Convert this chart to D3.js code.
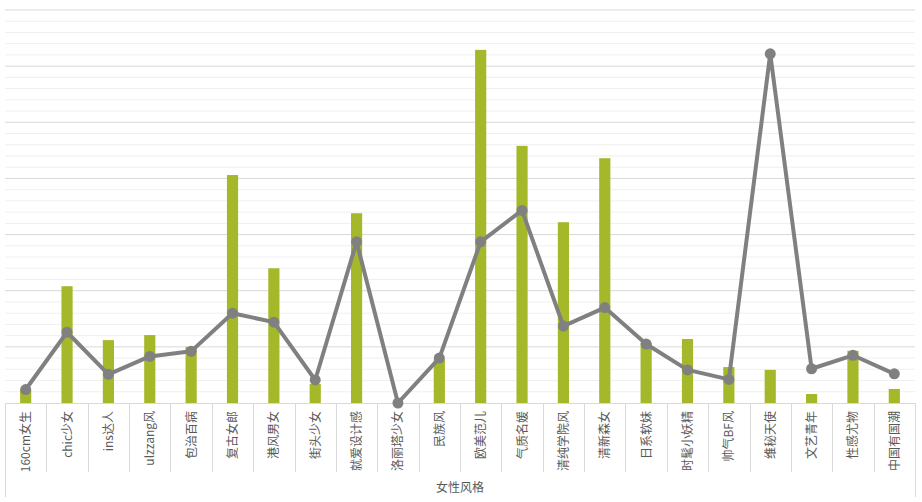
<!DOCTYPE html>
<html>
<head>
<meta charset="utf-8">
<script src="https://cdn.jsdelivr.net/npm/d3@7"></script>
<style>
  body { margin: 0; background: #fff; }
  text { font-family: "Noto Sans CJK SC", "Noto Sans", sans-serif; fill: #595959; }
</style>
</head>
<body>
<svg id="chart"></svg>
<script>
// categories along the x axis
var styles = ["160cm女生", "chic少女", "ins达人", "ulzzang风", "包治百病", "复古女郎", "港风男女",
  "街头少女", "就爱设计感", "洛丽塔少女", "民族风", "欧美范儿", "气质名媛", "清纯学院风", "清新森女",
  "日系软妹", "时髦小妖精", "帅气BF风", "维秘天使", "文艺青年", "性感尤物", "中国有国潮"];
// bar series (primary axis)
var barValues = [23, 208, 112, 121, 100, 406, 240, 34, 338, 0, 78, 629, 458, 322, 436, 107, 114, 64, 59, 16, 93, 25];
// line series (secondary axis)
var lineValues = [2.4, 12.6, 5.1, 8.3, 9.2, 16.0, 14.4, 4.1, 28.7, 0, 8.0, 28.7, 34.3, 13.7, 17.0, 10.5, 5.9, 4.2, 62.2, 6.1, 8.5, 5.2];
var outerLabel = "女性风格";

var svgWidth = 922, svgHeight = 502;
var svg = d3.select("#chart")
  .attr("width", svgWidth)
  .attr("height", svgHeight);

var margin = {top: 10, right: 7, bottom: 99, left: 5};
var plotW = svgWidth - margin.left - margin.right;
var plotH = svgHeight - margin.top - margin.bottom;

var x = d3.scaleBand()
  .domain(styles)
  .range([margin.left, margin.left + plotW]);

var y = d3.scaleLinear()
  .domain([0, 700])
  .range([margin.top + plotH, margin.top]);

var y2 = d3.scaleLinear()
  .domain([0, 70])
  .range([margin.top + plotH, margin.top]);

// minor then major gridlines
var minorTicks = d3.range(0, 701, 20).filter(d => d % 100 != 0);
svg.append("g").selectAll("line")
  .data(minorTicks).enter().append("line")
  .attr("x1", margin.left).attr("x2", margin.left + plotW)
  .attr("y1", d => y(d)).attr("y2", d => y(d))
  .attr("stroke", "#efefef").attr("stroke-width", 1);

svg.append("g").selectAll("line")
  .data(d3.range(100, 701, 100)).enter().append("line")
  .attr("x1", margin.left).attr("x2", margin.left + plotW)
  .attr("y1", d => y(d)).attr("y2", d => y(d))
  .attr("stroke", "#d9d9d9").attr("stroke-width", 1);

// bars
var barW = x.bandwidth() * 0.27;
svg.append("g").selectAll("rect")
  .data(styles).enter().append("rect")
  .attr("x", d => x(d) + x.bandwidth() / 2 - barW / 2)
  .attr("y", (d, i) => y(barValues[i]))
  .attr("width", barW)
  .attr("height", (d, i) => y(0) - y(barValues[i]))
  .attr("fill", "#a5b829");

// x axis with two level category labels
var base = y(0);
var ax = svg.append("g");
ax.append("line")
  .attr("x1", margin.left).attr("x2", margin.left + plotW)
  .attr("y1", base + 0.5).attr("y2", base + 0.5)
  .attr("stroke", "#d9d9d9");

var seps = styles.map(d => x(d)).concat([margin.left + plotW]);
ax.selectAll("line.sep")
  .data(seps).enter().append("line")
  .attr("class", "sep")
  .attr("x1", d => Math.round(d) + 0.5).attr("x2", d => Math.round(d) + 0.5)
  .attr("y1", base)
  .attr("y2", (d, i) => (i == 0 || i == seps.length - 1) ? base + 94 : base + 69)
  .attr("stroke", "#d9d9d9");

ax.selectAll("text.cat")
  .data(styles).enter().append("text")
  .attr("class", "cat")
  .attr("transform", d => "translate(" + (x(d) + x.bandwidth() / 2 + 4.5) + "," + (base + 8) + ") rotate(-90)")
  .style("text-anchor", "end")
  .style("font-size", "12px")
  .text(d => d);

ax.append("text")
  .attr("x", margin.left + plotW / 2)
  .attr("y", base + 89)
  .style("text-anchor", "middle")
  .style("font-size", "12px")
  .text(outerLabel);

// line series
var line = d3.line()
  .x((d, i) => x(styles[i]) + x.bandwidth() / 2)
  .y(d => y2(d));

svg.append("path")
  .datum(lineValues)
  .attr("d", line)
  .attr("fill", "none")
  .attr("stroke", "#808080")
  .attr("stroke-width", 4)
  .attr("stroke-linejoin", "round");

svg.append("g").selectAll("circle")
  .data(lineValues).enter().append("circle")
  .attr("cx", (d, i) => x(styles[i]) + x.bandwidth() / 2)
  .attr("cy", d => y2(d))
  .attr("r", 5.5)
  .attr("fill", "#808080");
</script>
</body>
</html>
